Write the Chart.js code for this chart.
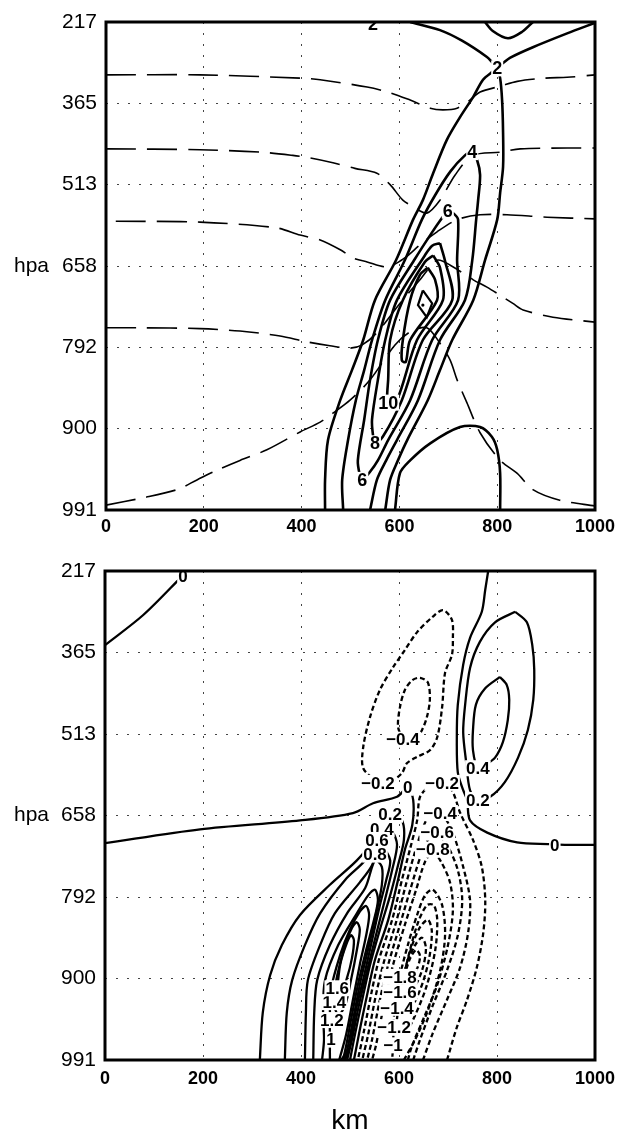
<!DOCTYPE html>
<html>
<head>
<meta charset="utf-8">
<script src="https://cdn.jsdelivr.net/npm/chart.js@4.4.1/dist/chart.umd.min.js"></script>
<style>
  html, body { margin: 0; padding: 0; background: #fff; }
  #wrap { position: relative; width: 618px; height: 1135px; }
  #upper { position: absolute; left: 0; top: 0; }
  #lower { position: absolute; left: 0; top: 550px; }
</style>
</head>
<body>
<div id="wrap">
  <canvas id="upper" width="618" height="550"></canvas>
  <canvas id="lower" width="618" height="585"></canvas>
</div>
<script>
// axis labels: model levels are evenly spaced, labelled in hPa
const levelLabels = ['217', '365', '513', '658', '792', '900', '991'];
const kmTicks = [0, 200, 400, 600, 800, 1000];

// ---- upper panel: points are [km, level index] ----
// dashed isentropes
const thetaA = [[0,0.65],[192,0.65],[397,0.69],[438,0.71],[534,0.80],[581,0.87],[622,0.96],[663,1.06],[689,1.08],[718,1.06],[744,0.96],[765,0.86],[806,0.79],[841,0.73],[898,0.69],[943,0.68],[1000,0.65]];
const thetaB = [[0,1.56],[192,1.57],[315,1.60],[382,1.64],[417,1.67],[464,1.73],[509,1.80],[554,1.86],[581,2.00],[607,2.19],[628,2.27],[656,2.35],[683,2.19],[714,1.88],[750,1.64],[806,1.60],[847,1.56],[943,1.55],[1000,1.55]];
const thetaC = [[20,2.45],[192,2.46],[348,2.53],[397,2.62],[438,2.68],[479,2.80],[505,2.90],[534,2.95],[575,3.01],[611,2.90],[642,2.74],[677,2.58],[718,2.43],[765,2.37],[820,2.37],[902,2.40],[1000,2.42]];
const thetaD = [[0,3.76],[70,3.76],[192,3.77],[274,3.80],[356,3.86],[409,3.93],[458,3.98],[499,4.01],[524,3.97],[554,3.82],[601,3.46],[642,3.17],[677,2.93],[704,2.99],[751,3.17],[779,3.26],[806,3.36],[832,3.46],[853,3.54],[914,3.63],[1000,3.69]];
const thetaE = [[0,5.94],[76,5.85],[145,5.75],[186,5.63],[227,5.51],[274,5.39],[329,5.26],[397,5.04],[438,4.92],[464,4.81],[499,4.65],[540,4.40],[591,3.97],[622,3.81],[656,3.76],[683,3.95],[704,4.16],[718,4.40],[738,4.68],[765,5.05],[806,5.39],[841,5.55],[873,5.75],[928,5.88],[1000,5.95]];

// solid contours
const ridge2 = [[622,0],[683,0.10],[728,0.23],[779,0.43],[800,0.54],[826,0.44],[873,0.31],[943,0.14],[1000,0.01]];
const cap2 = [[775,0],[791,0.11],[822,0.20],[851,0.12],[873,0]];
const plume2 = [[448,6.0],[448,5.63],[454,5.14],[479,4.65],[503,4.28],[526,3.91],[550,3.42],[593,2.93],[628,2.43],[648,2.19],[669,1.86],[697,1.45],[724,1.17],[751,0.92],[771,0.71],[791,0.61],[800,0.57],[806,0.69],[810,0.96],[812,1.36],[812,1.78],[806,2.10],[800,2.43],[775,2.93],[751,3.42],[708,3.91],[683,4.28],[658,4.65],[616,5.14],[597,5.39],[581,5.63],[571,6.0]];
const plume4 = [[485,6.0],[483,5.63],[495,5.14],[511,4.65],[528,4.28],[544,3.91],[571,3.42],[611,2.93],[646,2.43],[673,2.13],[704,1.84],[734,1.64],[749,1.60],[759,1.70],[765,1.88],[761,2.19],[757,2.43],[749,2.93],[734,3.42],[683,3.91],[638,4.65],[595,5.14],[573,5.39],[554,5.63],[540,6.0]];
const plume6 = [[699,2.32],[687,2.41],[663,2.62],[630,2.93],[581,3.42],[556,3.91],[540,4.40],[528,4.89],[515,5.39],[519,5.57],[524,5.63],[540,5.53],[556,5.39],[577,5.14],[622,4.65],[667,3.91],[720,3.42],[718,2.93],[720,2.43],[710,2.35],[699,2.32]];
const plume8 = [[683,2.72],[667,2.75],[652,2.87],[595,3.42],[571,3.91],[556,4.40],[544,4.89],[546,5.08],[550,5.18],[566,5.10],[605,4.65],[648,3.91],[708,3.42],[693,2.93],[683,2.72]];
const plume10 = [[669,2.87],[652,2.95],[607,3.42],[581,3.91],[577,4.40],[575,4.59],[577,4.68],[595,4.65],[636,3.91],[689,3.42],[683,3.02],[669,2.87]];
const plume12 = [[658,3.02],[642,3.11],[622,3.42],[607,3.91],[605,4.16],[613,4.18],[622,3.91],[677,3.42],[673,3.17],[658,3.02]];
const plume14 = [[648,3.30],[667,3.46],[656,3.63],[638,3.48],[648,3.30]];
const plumeMax = [[648,3.48]];
const dome2 = [[591,6.0],[601,5.55],[622,5.39],[663,5.18],[724,4.98],[765,4.98],[789,5.10],[800,5.26],[806,5.55],[806,6.0]];

const upperTags = [[800,0.57,'2'],[546,0.02,'2'],[749,1.60,'4'],[699,2.32,'6'],[524,5.63,'6'],[550,5.18,'8'],[577,4.68,'10']];

// ---- lower panel: points are [km, level index] ----
const zeroNW = [[0,0.91],[78,0.54],[153,0.09],[165,0.01]];
const zeroMid = [[0,3.34],[194,3.17],[398,3.06],[506,2.97],[547,2.85],[596,2.77],[618,2.66],[629,2.81],[627,3.12],[612,3.42],[598,3.79],[578,4.28],[551,4.77],[537,5.14],[520,5.63],[508,6.0]];
const zeroEast = [[782,0],[776,0.23],[769,0.50],[745,0.82],[731,1.15],[720,1.64],[718,2.05],[720,2.47],[731,2.69],[739,2.81],[745,3.06],[780,3.21],[841,3.33],[908,3.35],[943,3.36],[1000,3.36]];

const pos02 = [[316,6.0],[322,5.42],[337,4.96],[361,4.59],[398,4.22],[459,3.85],[514,3.55],[551,3.28],[582,2.99],[606,3.06],[610,3.30],[598,3.61],[582,3.98],[561,4.40],[541,4.83],[525,5.26],[510,5.69],[500,6.0]];
const pos04 = [[367,6.0],[371,5.42],[382,5.02],[408,4.59],[439,4.20],[490,3.79],[531,3.55],[557,3.28],[565,3.17],[586,3.20],[596,3.36],[586,3.67],[571,4.04],[553,4.47],[535,4.90],[518,5.33],[504,5.75],[494,6.0]];
const pos06 = [[408,6.0],[410,5.42],[414,5.02],[439,4.59],[469,4.20],[520,3.82],[545,3.61],[555,3.40],[567,3.39],[582,3.55],[574,3.79],[561,4.10],[545,4.53],[529,4.96],[512,5.39],[500,5.82],[490,6.0]];
const pos08 = [[425,6.0],[427,5.42],[433,5.02],[459,4.59],[494,4.20],[531,3.89],[551,3.55],[565,3.63],[565,3.85],[555,4.16],[539,4.59],[522,5.02],[508,5.45],[494,5.88],[486,6.0]];
const pos10 = [[443,6.0],[447,5.75],[445,5.42],[449,5.02],[476,4.59],[514,4.20],[537,3.98],[551,3.91],[557,4.04],[549,4.28],[533,4.65],[516,5.08],[502,5.51],[488,5.94],[482,6.0]];
const pos12 = [[459,6.0],[459,5.51],[461,5.14],[480,4.71],[500,4.40],[520,4.18],[533,4.11],[539,4.22],[533,4.47],[520,4.83],[506,5.26],[492,5.69],[478,6.0]];
const pos14 = [[465,5.29],[474,4.96],[490,4.59],[504,4.38],[514,4.31],[520,4.40],[514,4.65],[502,5.02],[490,5.33],[476,5.45],[465,5.29]];
const pos16 = [[474,5.12],[480,4.83],[492,4.59],[502,4.47],[508,4.53],[504,4.75],[494,4.99],[482,5.17],[474,5.12]];
const eastPos02 = [[837,0.50],[861,0.63],[872,0.91],[876,1.21],[874,1.58],[863,1.95],[843,2.29],[816,2.59],[786,2.77],[761,2.81],[745,2.69],[737,2.34],[731,1.98],[735,1.64],[745,1.19],[765,0.87],[796,0.63],[837,0.50]];
const eastPos04 = [[806,1.30],[820,1.40],[825,1.58],[822,1.83],[812,2.10],[796,2.29],[776,2.38],[761,2.42],[751,2.20],[751,1.95],[757,1.64],[776,1.44],[806,1.30]];

const neg02Upper = [[557,2.60],[527,2.42],[527,2.16],[541,1.79],[561,1.46],[588,1.18],[612,0.97],[637,0.75],[669,0.56],[690,0.48],[708,0.60],[710,0.82],[708,1.03],[694,1.25],[688,1.67],[678,2.04],[663,2.20],[637,2.28],[616,2.36],[606,2.48],[582,2.59],[557,2.60]];
const neg04Upper = [[608,2.07],[598,1.91],[602,1.67],[612,1.46],[627,1.34],[643,1.31],[659,1.37],[663,1.58],[657,1.79],[647,1.95],[633,2.07],[608,2.07]];
const neg02 = [[698,6.0],[718,5.60],[739,5.26],[759,4.86],[772,4.44],[776,4.04],[769,3.63],[751,3.30],[725,2.97],[708,2.69],[688,2.60],[663,2.64],[643,2.77],[637,3.06],[623,3.40],[606,3.79],[586,4.28],[559,4.77],[545,5.14],[529,5.63],[516,6.0]];
const neg04 = [[649,6.0],[669,5.67],[698,5.26],[725,4.86],[741,4.44],[745,4.04],[731,3.63],[710,3.21],[694,3.03],[684,2.97],[663,2.99],[647,3.18],[631,3.48],[614,3.85],[594,4.31],[569,4.80],[553,5.20],[537,5.69],[525,6.0]];
const neg06 = [[629,6.0],[643,5.75],[669,5.33],[698,4.90],[720,4.47],[729,4.04],[720,3.67],[698,3.36],[678,3.24],[659,3.30],[643,3.52],[623,3.91],[602,4.34],[578,4.83],[561,5.26],[545,5.75],[535,6.0]];
const neg08 = [[618,6.0],[627,5.82],[653,5.45],[678,5.08],[700,4.59],[710,4.16],[704,3.82],[686,3.57],[669,3.45],[653,3.57],[635,3.91],[612,4.34],[588,4.83],[569,5.33],[553,5.82],[545,6.0]];
const neg10 = [[610,6.0],[633,5.75],[659,5.39],[684,4.90],[694,4.47],[688,4.10],[669,3.91],[653,3.98],[637,4.22],[618,4.59],[600,5.02],[590,5.45],[588,5.82],[586,6.0]];
const neg12 = [[594,5.60],[602,5.20],[620,4.71],[639,4.31],[657,4.10],[671,4.10],[678,4.28],[674,4.65],[657,5.08],[633,5.45],[612,5.67],[594,5.60]];
const neg14 = [[598,5.36],[610,4.96],[627,4.59],[643,4.37],[659,4.28],[667,4.42],[661,4.77],[643,5.14],[618,5.41],[598,5.36]];
const neg16 = [[606,5.17],[616,4.83],[633,4.59],[647,4.50],[655,4.63],[647,4.90],[627,5.14],[606,5.17]];
const neg18 = [[610,4.98],[623,4.75],[635,4.65],[643,4.73],[633,4.92],[610,4.98]];

const lowerTags = [
  [159,0.06,'0'], [618,2.66,'0'], [918,3.36,'0'],
  [557,2.60,'\u22120.2'], [688,2.60,'\u22120.2'], [608,2.07,'\u22120.4'],
  [761,2.81,'0.2'], [761,2.42,'0.4'],
  [582,2.99,'0.2'], [565,3.17,'0.4'], [555,3.30,'0.6'], [551,3.48,'0.8'],
  [684,2.97,'\u22120.4'], [678,3.21,'\u22120.6'], [669,3.42,'\u22120.8'],
  [461,5.75,'1'], [463,5.51,'1.2'], [468,5.29,'1.4'], [474,5.12,'1.6'],
  [602,4.98,'\u22121.8'], [602,5.17,'\u22121.6'], [596,5.36,'\u22121.4'], [590,5.60,'\u22121.2'], [588,5.82,'\u22121']
];

Chart.defaults.font.family = '"Liberation Sans", Arial, Helvetica, sans-serif';
Chart.defaults.color = '#000';

const asPts = arr => arr.map(([x, y]) => ({ x, y }));

function contour(arr, width, dash, tension) {
  return {
    data: asPts(arr),
    showLine: true,
    pointRadius: 0,
    borderColor: '#000',
    borderWidth: width,
    borderDash: dash || [],
    tension: tension === undefined ? 0.3 : tension,
    fill: false
  };
}

// labels on the contours, frame round the plot and the "hpa" caption
const panelDecor = {
  id: 'panelDecor',
  afterDatasetsDraw(chart, args, opts) {
    const { ctx, chartArea, scales: { x, y } } = chart;
    ctx.save();
    ctx.beginPath();
    ctx.rect(chartArea.left, chartArea.top, chartArea.width, chartArea.height);
    ctx.clip();
    ctx.font = opts.font;
    ctx.textAlign = 'center';
    ctx.textBaseline = 'middle';
    opts.tags.forEach(([km, lev, text]) => {
      const px = x.getPixelForValue(km);
      const py = y.getPixelForValue(lev);
      const w = ctx.measureText(text).width;
      ctx.fillStyle = '#fff';
      ctx.fillRect(px - w / 2 - 1, py - 8, w + 2, 16);
      ctx.fillStyle = '#000';
      ctx.fillText(text, px, py + 1);
    });
    ctx.restore();
  },
  afterDraw(chart) {
    const { ctx, chartArea, scales: { y } } = chart;
    ctx.save();
    ctx.strokeStyle = '#000';
    ctx.lineWidth = 3;
    ctx.strokeRect(chartArea.left, chartArea.top, chartArea.width, chartArea.height);
    ctx.font = '21px "Liberation Sans", Arial, sans-serif';
    ctx.fillStyle = '#000';
    ctx.textAlign = 'left';
    ctx.textBaseline = 'middle';
    ctx.fillText('hpa', 14, y.getPixelForValue(3));
    ctx.restore();
  }
};

function scalesFor(yWidth, xHeight, tickPad, withTitle) {
  return {
    x: {
      type: 'linear',
      min: 0,
      max: 1000,
      afterBuildTicks: s => { s.ticks = kmTicks.map(v => ({ value: v })); },
      afterFit: s => { s.height = xHeight; s.paddingLeft = 0; s.paddingRight = 0; },
      ticks: { font: { size: 18, weight: 'bold' }, padding: tickPad, maxRotation: 0, callback: v => String(v) },
      grid: { color: '#444', lineWidth: 1, drawTicks: false },
      border: { display: false, dash: [2, 9] },
      title: withTitle
        ? { display: true, text: 'km', font: { size: 28, lineHeight: 1 }, padding: { top: 0, bottom: 0 } }
        : { display: false }
    },
    y: {
      type: 'linear',
      min: 0,
      max: 6,
      reverse: true,
      afterFit: s => { s.width = yWidth; s.paddingTop = 0; s.paddingBottom = 0; },
      ticks: { stepSize: 1, font: { size: 21 }, padding: 9, callback: v => levelLabels[v] ?? '' },
      grid: { color: '#444', lineWidth: 1, drawTicks: false },
      border: { display: false, dash: [2, 9] }
    }
  };
}

const solidTop = 2.6, dashTop = [30, 11];

new Chart(document.getElementById('upper'), {
  type: 'scatter',
  data: {
    datasets: [
      contour(thetaA, 1.6, dashTop),
      contour(thetaB, 1.6, dashTop),
      contour(thetaC, 1.6, dashTop),
      contour(thetaD, 1.6, dashTop),
      contour(thetaE, 1.6, dashTop),
      contour(ridge2, solidTop),
      contour(cap2, solidTop),
      contour(plume2, solidTop),
      contour(plume4, solidTop),
      contour(plume6, solidTop),
      contour(plume8, solidTop),
      contour(plume10, solidTop),
      contour(plume12, solidTop),
      contour(plume14, 2.2, null, 0),
      contour(dome2, solidTop),
      { data: asPts(plumeMax), showLine: false, pointRadius: 1.6, pointBackgroundColor: '#000', pointBorderWidth: 0 }
    ]
  },
  options: {
    responsive: false,
    animation: false,
    events: [],
    layout: { padding: { left: 0, right: 23, top: 22, bottom: 0 } },
    plugins: {
      legend: { display: false },
      tooltip: { enabled: false },
      panelDecor: { tags: upperTags, font: 'bold 18px "Liberation Sans", Arial, sans-serif' }
    },
    scales: scalesFor(106, 40, 6, false)
  },
  plugins: [panelDecor]
});

const solidLow = 2.3, dashLow = [5, 3];

new Chart(document.getElementById('lower'), {
  type: 'scatter',
  data: {
    datasets: [
      contour(zeroNW, solidLow),
      contour(zeroMid, solidLow),
      contour(zeroEast, solidLow),
      contour(pos02, solidLow),
      contour(pos04, solidLow),
      contour(pos06, solidLow),
      contour(pos08, solidLow),
      contour(pos10, solidLow),
      contour(pos12, solidLow),
      contour(pos14, solidLow),
      contour(pos16, solidLow),
      contour(eastPos02, solidLow),
      contour(eastPos04, solidLow),
      contour(neg02Upper, 2.3, dashLow),
      contour(neg04Upper, 2.3, dashLow),
      contour(neg02, 2.3, dashLow),
      contour(neg04, 2.3, dashLow),
      contour(neg06, 2.3, dashLow),
      contour(neg08, 2.3, dashLow),
      contour(neg10, 2.3, dashLow),
      contour(neg12, 2.3, dashLow),
      contour(neg14, 2.3, dashLow),
      contour(neg16, 2.3, dashLow),
      contour(neg18, 2.3, dashLow)
    ]
  },
  options: {
    responsive: false,
    animation: false,
    events: [],
    layout: { padding: { left: 0, right: 23, top: 21, bottom: 0 } },
    plugins: {
      legend: { display: false },
      tooltip: { enabled: false },
      panelDecor: { tags: lowerTags, font: 'bold 17px "Liberation Sans", Arial, sans-serif' }
    },
    scales: scalesFor(105, 75, 8, true)
  },
  plugins: [panelDecor]
});
</script>
</body>
</html>
